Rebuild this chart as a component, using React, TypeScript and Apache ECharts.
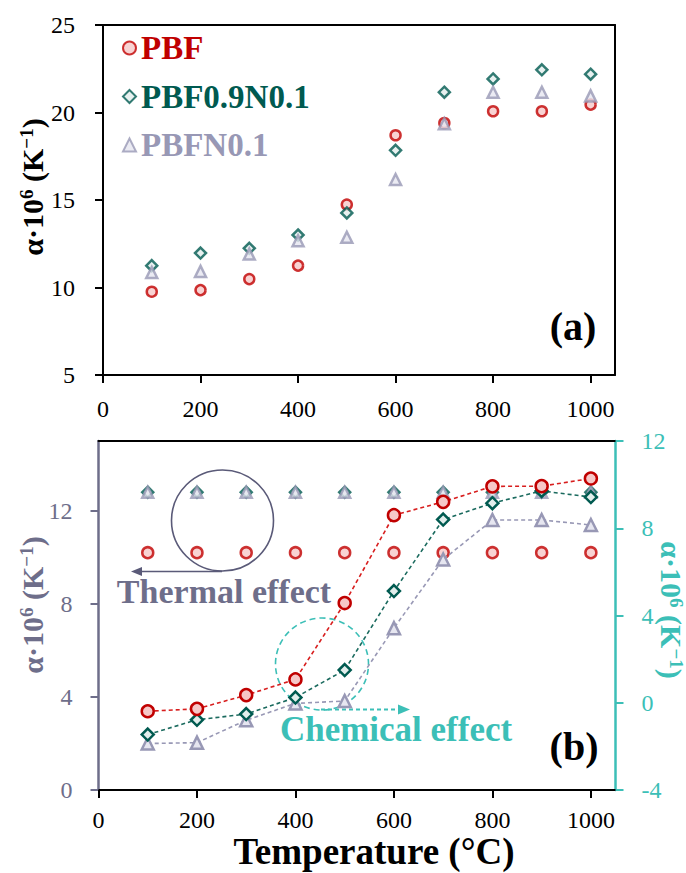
import React, { useEffect, useRef } from "react";
import * as echarts from "echarts";

// ---------- data ----------
const temps = [100, 200, 300, 400, 500, 600, 700, 800, 900, 1000];
const xTickValues = [0, 200, 400, 600, 800, 1000];

// panel (a)
const aPBF = [9.76, 9.85, 10.48, 11.25, 14.74, 18.7, 19.4, 20.07, 20.07, 20.45];
const aPBF09N01 = [11.25, 11.97, 12.24, 13.0, 14.26, 17.84, 21.16, 21.92, 22.44, 22.19];
const aPBFN01 = [10.86, 10.92, 11.91, 12.67, 12.87, 16.17, 19.36, 21.16, 21.16, 20.95];
const aYTicks = [5, 10, 15, 20, 25];

// panel (b) – thermal effect (left axis)
const bThermalPBF = [10.2, 10.2, 10.2, 10.2, 10.2, 10.2, 10.2, 10.2, 10.2, 10.2];
const bThermalPBF09N01 = [12.8, 12.8, 12.8, 12.8, 12.8, 12.8, 12.8, 12.8, 12.8, 12.8];
const bThermalPBFN01 = [12.8, 12.8, 12.8, 12.8, 12.8, 12.8, 12.8, 12.8, 12.8, 12.8];
const bLeftTicks = [0, 4, 8, 12];

// panel (b) – chemical effect (right axis)
const bChemPBF = [-0.39, -0.28, 0.35, 1.07, 4.57, 8.6, 9.21, 9.92, 9.93, 10.28];
const bChemPBF09N01 = [-1.46, -0.78, -0.52, 0.24, 1.5, 5.12, 8.4, 9.15, 9.71, 9.43];
const bChemPBFN01 = [-1.87, -1.83, -0.8, -0.03, 0.08, 3.42, 6.57, 8.38, 8.38, 8.15];
const bRightTicks = [-4, 0, 4, 8, 12];

const seriesNames = ["PBF", "PBF0.9N0.1", "PBFN0.1"];

// ---------- style ----------
const FONT = "Liberation Serif";
const RED = "#C00000";
const RED_FILL = "#F6C8C8";
const GREEN = "#005A50";
const GREEN_FILL = "#E2EEEC";
const GRAY = "#9898B5";
const GRAY_FILL = "#E6E6F0";
const LEFT_B = "#6E6E8A";
const TEAL = "#3CBFB7";

const pairs = (ys: number[]) => temps.map((t, i) => [t, ys[i]]);
const plain = (v: number) => String(v);

function titleText(color: string, size: number) {
  return {
    text: "{m|α·10}{s|6}{m| (K}{s|−1}{m|)}",
    rich: {
      m: { fontSize: size, fontWeight: "bold", fontFamily: FONT, fill: color, lineHeight: size },
      s: {
        fontSize: Math.round(size * 0.62),
        fontWeight: "bold",
        fontFamily: FONT,
        fill: color,
        lineHeight: Math.round(size * 0.62),
        verticalAlign: "top",
      },
    },
    align: "center",
    verticalAlign: "middle",
  };
}

export default function App() {
  const ref = useRef<HTMLDivElement>(null);

  useEffect(() => {
    if (!ref.current) return;
    const chart = echarts.init(ref.current, null, { renderer: "svg" });

    const xAxisBase = (gridIndex: number, margin: number) => ({
      type: "value",
      gridIndex,
      min: 0,
      max: 1050,
      interval: 200,
      splitLine: { show: false },
      axisLine: { show: true, onZero: false, lineStyle: { color: "#000", width: 2 } },
      axisTick: { show: true, inside: false, length: 8, customValues: xTickValues, lineStyle: { color: "#000", width: 2 } },
      axisLabel: {
        show: true,
        customValues: xTickValues,
        formatter: plain,
        margin,
        color: "#000",
        fontSize: 24,
        fontFamily: FONT,
      },
    });

    const borderAxisX = (gridIndex: number) => ({
      type: "value",
      gridIndex,
      position: "top",
      min: 0,
      max: 1050,
      splitLine: { show: false },
      axisLine: { show: true, onZero: false, lineStyle: { color: "#000", width: 2 } },
      axisTick: { show: false },
      axisLabel: { show: false },
    });

    const option: any = {
      animation: false,
      backgroundColor: "#fff",
      grid: [
        { left: 103, top: 25, width: 512, height: 350 },
        { left: 98.5, top: 441, width: 517, height: 349 },
      ],
      xAxis: [xAxisBase(0, 22), xAxisBase(1, 18), borderAxisX(0), borderAxisX(1)],
      yAxis: [
        {
          type: "value",
          gridIndex: 0,
          min: 5,
          max: 25,
          interval: 5,
          splitLine: { show: false },
          axisLine: { show: true, onZero: false, lineStyle: { color: "#000", width: 2 } },
          axisTick: { show: true, inside: false, length: 8, customValues: aYTicks, lineStyle: { color: "#000", width: 2 } },
          axisLabel: { customValues: aYTicks, formatter: plain, margin: 28, color: "#000", fontSize: 24, fontFamily: FONT },
        },
        {
          type: "value",
          gridIndex: 0,
          position: "right",
          min: 5,
          max: 25,
          splitLine: { show: false },
          axisLine: { show: true, onZero: false, lineStyle: { color: "#000", width: 2 } },
          axisTick: { show: false },
          axisLabel: { show: false },
        },
        {
          type: "value",
          gridIndex: 1,
          min: 0,
          max: 15,
          interval: 4,
          splitLine: { show: false },
          axisLine: { show: true, onZero: false, lineStyle: { color: LEFT_B, width: 2.5 } },
          axisTick: { show: true, inside: false, length: 8, customValues: bLeftTicks, lineStyle: { color: LEFT_B, width: 2 } },
          axisLabel: { customValues: bLeftTicks, formatter: plain, margin: 26, color: LEFT_B, fontSize: 24, fontFamily: FONT },
        },
        {
          type: "value",
          gridIndex: 1,
          position: "right",
          min: -4,
          max: 12,
          interval: 4,
          splitLine: { show: false },
          axisLine: { show: true, onZero: false, lineStyle: { color: TEAL, width: 2.5 } },
          axisTick: { show: true, inside: false, length: 8, customValues: bRightTicks, lineStyle: { color: TEAL, width: 2 } },
          axisLabel: { customValues: bRightTicks, formatter: plain, margin: 26, color: TEAL, fontSize: 24, fontFamily: FONT },
        },
      ],
      legend: {
        orient: "vertical",
        left: 122,
        top: 28,
        itemWidth: 13,
        itemHeight: 13,
        itemGap: 8.5,
        selectedMode: false,
        padding: 0,
        textStyle: { fontSize: 33, fontWeight: "bold", fontFamily: FONT, lineHeight: 40 },
        data: [
          { name: seriesNames[0], textStyle: { color: RED } },
          { name: seriesNames[1], textStyle: { color: GREEN } },
          { name: seriesNames[2], textStyle: { color: GRAY } },
        ],
      },
      series: [
        // panel (a)
        {
          name: seriesNames[0],
          type: "scatter",
          xAxisIndex: 0,
          yAxisIndex: 0,
          symbol: "circle",
          symbolSize: 10,
          itemStyle: { color: RED_FILL, borderColor: RED, borderWidth: 2.5 },
          data: pairs(aPBF),
        },
        {
          name: seriesNames[1],
          type: "scatter",
          xAxisIndex: 0,
          yAxisIndex: 0,
          symbol: "diamond",
          symbolSize: 11,
          itemStyle: { color: GREEN_FILL, borderColor: GREEN, borderWidth: 2.5 },
          data: pairs(aPBF09N01),
        },
        {
          name: seriesNames[2],
          type: "scatter",
          xAxisIndex: 0,
          yAxisIndex: 0,
          symbol: "triangle",
          symbolSize: 11,
          itemStyle: { color: GRAY_FILL, borderColor: GRAY, borderWidth: 2.5 },
          data: pairs(aPBFN01),
        },
        // panel (b) thermal (left axis)
        {
          name: "PBF thermal",
          type: "scatter",
          xAxisIndex: 1,
          yAxisIndex: 2,
          symbol: "circle",
          symbolSize: 11,
          itemStyle: { color: RED_FILL, borderColor: RED, borderWidth: 2.5 },
          data: pairs(bThermalPBF),
        },
        {
          name: "PBF0.9N0.1 thermal",
          type: "scatter",
          xAxisIndex: 1,
          yAxisIndex: 2,
          symbol: "diamond",
          symbolSize: 11,
          itemStyle: { color: GREEN_FILL, borderColor: GREEN, borderWidth: 2.5 },
          data: pairs(bThermalPBF09N01),
        },
        {
          name: "PBFN0.1 thermal",
          type: "scatter",
          xAxisIndex: 1,
          yAxisIndex: 2,
          symbol: "triangle",
          symbolSize: 11,
          itemStyle: { color: GRAY_FILL, borderColor: GRAY, borderWidth: 2.5 },
          data: pairs(bThermalPBFN01),
        },
        // panel (b) chemical (right axis)
        {
          name: "PBFN0.1 chemical",
          type: "line",
          xAxisIndex: 1,
          yAxisIndex: 3,
          symbol: "triangle",
          symbolSize: 12,
          showAllSymbol: true,
          lineStyle: { color: GRAY, width: 1.6, type: [4, 3] },
          itemStyle: { color: GRAY_FILL, borderColor: GRAY, borderWidth: 2.5 },
          data: pairs(bChemPBFN01),
        },
        {
          name: "PBF0.9N0.1 chemical",
          type: "line",
          xAxisIndex: 1,
          yAxisIndex: 3,
          symbol: "diamond",
          symbolSize: 12,
          showAllSymbol: true,
          lineStyle: { color: "#1A6A5E", width: 1.6, type: [4, 3] },
          itemStyle: { color: GREEN_FILL, borderColor: GREEN, borderWidth: 2.5 },
          data: pairs(bChemPBF09N01),
        },
        {
          name: "PBF chemical",
          type: "line",
          xAxisIndex: 1,
          yAxisIndex: 3,
          symbol: "circle",
          symbolSize: 12,
          showAllSymbol: true,
          lineStyle: { color: "#D81E1E", width: 1.6, type: [4, 3] },
          itemStyle: { color: RED_FILL, borderColor: RED, borderWidth: 2.5 },
          data: pairs(bChemPBF),
        },
      ],
      graphic: [
        // axis titles
        { type: "text", x: 32, y: 187, rotation: Math.PI / 2, style: titleText("#000", 30), z: 10 },
        { type: "text", x: 32, y: 605, rotation: Math.PI / 2, style: titleText(LEFT_B, 30), z: 10 },
        { type: "text", x: 671, y: 610, rotation: -Math.PI / 2, style: titleText(TEAL, 30), z: 10 },
        {
          type: "text",
          x: 374,
          y: 851,
          style: {
            text: "Temperature (°C)",
            fill: "#000",
            font: `bold 37px "${FONT}"`,
            align: "center",
            verticalAlign: "middle",
          },
        },
        // panel labels
        {
          type: "text",
          x: 573,
          y: 326,
          style: { text: "(a)", fill: "#000", font: `bold 40px "${FONT}"`, align: "center", verticalAlign: "middle" },
        },
        {
          type: "text",
          x: 574,
          y: 746,
          style: { text: "(b)", fill: "#000", font: `bold 40px "${FONT}"`, align: "center", verticalAlign: "middle" },
        },
        // thermal effect annotation
        {
          type: "ellipse",
          shape: { cx: 222.5, cy: 520.5, rx: 51, ry: 50.5 },
          style: { fill: "none", stroke: "#5A5A78", lineWidth: 1.6 },
        },
        {
          type: "line",
          shape: { x1: 222, y1: 571.5, x2: 138, y2: 571.5 },
          style: { stroke: "#5A5A78", lineWidth: 1.6 },
        },
        {
          type: "polygon",
          shape: { points: [[131, 571.5], [142, 567], [142, 576]] },
          style: { fill: "#5A5A78" },
        },
        {
          type: "text",
          x: 224,
          y: 591,
          style: {
            text: "Thermal effect",
            fill: LEFT_B,
            font: `bold 34px "${FONT}"`,
            align: "center",
            verticalAlign: "middle",
          },
        },
        // chemical effect annotation
        {
          type: "ellipse",
          shape: { cx: 322, cy: 664, rx: 46.5, ry: 46 },
          style: { fill: "none", stroke: TEAL, lineWidth: 1.6, lineDash: [6, 4] },
        },
        {
          type: "line",
          shape: { x1: 321, y1: 709.5, x2: 400, y2: 709.5 },
          style: { stroke: TEAL, lineWidth: 1.8, lineDash: [4, 3] },
        },
        {
          type: "polygon",
          shape: { points: [[410, 709.5], [398, 704.5], [398, 714.5]] },
          style: { fill: TEAL },
        },
        {
          type: "text",
          x: 396,
          y: 729,
          style: {
            text: "Chemical effect",
            fill: TEAL,
            font: `bold 35px "${FONT}"`,
            align: "center",
            verticalAlign: "middle",
          },
        },
      ],
    };

    chart.setOption(option);
    return () => chart.dispose();
  }, []);

  return (
    <div
      ref={ref}
      style={{ position: "absolute", left: 0, top: 0, width: 686, height: 873, background: "#fff" }}
    />
  );
}
